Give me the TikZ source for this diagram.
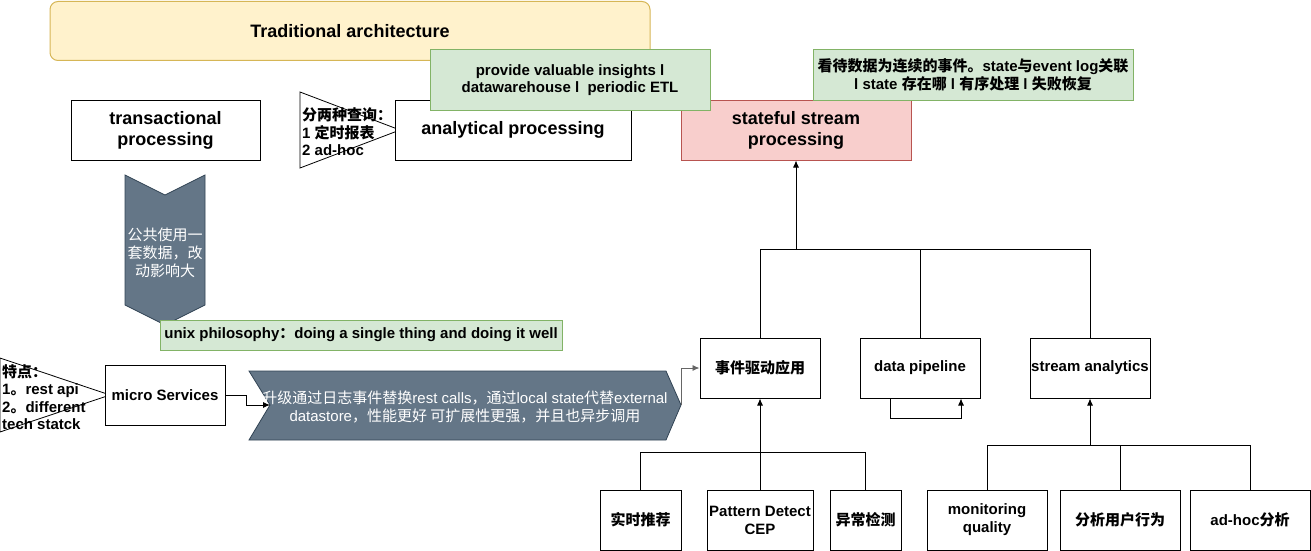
\documentclass[tikz,border=0pt]{standalone}
\usepackage{fontspec}
\setmainfont{Liberation Sans}
\newfontfamily\cjk{Noto Sans CJK SC}
\newcommand{\zhtext}[1]{{\cjk #1}}
\usetikzlibrary{arrows.meta}

\definecolor{titlefill}{HTML}{FFF2CC}
\definecolor{titleline}{HTML}{D6B656}
\definecolor{notefill}{HTML}{D5E8D4}
\definecolor{noteline}{HTML}{82B366}
\definecolor{streamfill}{HTML}{F8CECC}
\definecolor{streamline}{HTML}{B85450}
\definecolor{chevfill}{HTML}{647687}
\definecolor{chevline}{HTML}{314354}

\begin{document}
\begin{tikzpicture}[x=1pt, y=-1pt, box/.style={draw, rectangle, line width=1pt, minimum width=120pt, minimum height=60pt, inner sep=0pt, align=center, fill=white, font=\bfseries\fontsize{15}{18}\selectfont}, big/.style={box, font=\bfseries\fontsize{18}{21}\selectfont}, note/.style={draw=noteline, fill=notefill, line width=1pt, inner sep=0pt, align=center, font=\bfseries\fontsize{15}{17.5}\selectfont}, tri/.style={draw, fill=white, line width=0.8pt}, tritext/.style={anchor=west, align=left, inner sep=0pt, font=\bfseries\fontsize{15}{17.5}\selectfont}, chev/.style={fill=chevfill, draw=chevline, line width=0.8pt}, chevtext/.style={text=white, align=center, inner sep=0pt}, n/.style={-{Latex[length=7pt, width=6pt]}, line width=0.9pt}, link/.style={line width=0.9pt}]
            \useasboundingbox (0,0) rectangle (1311,551);
            % nodes
            \node[draw=titleline, fill=titlefill, rounded corners=8pt, line width=1pt, minimum width=600pt, minimum height=59pt, font=\bfseries\fontsize{18}{21}\selectfont] (title) at (350,31) {Traditional architecture};
            \draw[tri] (300,92) -- (400,130) -- (300,168) -- cycle;
            \draw[tri] (0,358) -- (110,395) -- (0,432) -- cycle;
            \node[big, minimum width=189pt] (tp) at (165.5,130) {transactional\\processing};
            \node[big, minimum width=236pt] (ap) at (513,130) {analytical processing};
            \node[big, draw=streamline, fill=streamfill, minimum width=230pt] (ss) at (796,130) {stateful stream\\processing};
            \node[tritext] (queries) at (302,132) {\zhtext{分两种查询：}\\1 \zhtext{定时报表}\\2 ad-hoc};
            \node[note, minimum width=280pt, minimum height=60pt] (insight) at (570,80) {provide valuable insights l\\datawarehouse l\ \ periodic ETL};
            \node[note, minimum width=320pt, minimum height=50pt] (events) at (973,75) {\zhtext{看待数据为连续的事件。}state\zhtext{与}event log\zhtext{关联}\\l state \zhtext{存在哪} l \zhtext{有序处理} l \zhtext{失败恢复}};
            \filldraw[chev] (125,175) -- (165,195) -- (205,175) -- (205,305) -- (165,325) -- (125,305) -- cycle;
            \node[chevtext, font={\cjk\fontsize{15}{18}\selectfont}] (shared) at (165,253) {公共使用一\\套数据，改\\动影响大};
            \node[note, minimum width=402pt, minimum height=30pt] (unix) at (361,335) {unix philosophy\zhtext{：}doing a single thing and doing it well};
            \node[tritext] (traits) at (2,397) {\zhtext{特点：}\\1\zhtext{。}rest api\\2\zhtext{。}different\\tech statck};
            \node[box] (ms) at (165,395) {micro Services};
            \filldraw[chev] (249,371) -- (666,371) -- (681,405) -- (666,440) -- (249,440) -- (270,405) -- cycle;
            \coordinate (upgW) at (270,405);
            \coordinate (upgE) at (681,405);
            \node[chevtext, font=\fontsize{15}{17.5}\selectfont] (upgrade) at (465,407) {\zhtext{升级通过日志事件替换}rest calls\zhtext{，通过}local state\zhtext{代替}external\\datastore\zhtext{，性能更好 可扩展性更强，并且也异步调用}};
            \node[box] (eda) at (760,368) {\zhtext{事件驱动应用}};
            \node[box] (dp) at (920,368) {data pipeline};
            \node[box] (sa) at (1090,368) {stream analytics};
            \node[box, minimum width=81pt] (rec) at (640.5,520) {\zhtext{实时推荐}};
            \node[box, minimum width=106pt] (cep) at (760,520) {Pattern Detect\\CEP};
            \node[box, minimum width=71pt] (anom) at (865.5,520) {\zhtext{异常检测}};
            \node[box] (mq) at (987,520) {monitoring\\quality};
            \node[box] (ub) at (1120,520) {\zhtext{分析用户行为}};
            \node[box] (adhoc) at (1250,520) {ad-hoc\zhtext{分析}};
            \coordinate (j1) at (796,249);
            \coordinate (j2) at (760,452);
            \coordinate (j3) at (1090,445);
            % edges
            \draw[n] (ms.east) -- ++(21,0) |- (upgW);
            \draw[n, black!60] (upgE) |- (eda.west);
            \draw[link] (eda.north) |- (j1);
            \draw[link] (dp.north) |- (j1);
            \draw[n] (sa.north) |- (j1) -- (ss.south);
            \draw[n] ([xshift=-30pt]dp.south) -- ++(0,20) -| ([xshift=41pt]dp.south);
            \draw[link] (rec.north) |- (j2);
            \draw[link] (anom.north) |- (j2);
            \draw[n] (cep.north) -- (j2) -- (eda.south);
            \draw[link] (mq.north) |- (j3);
            \draw[link] (adhoc.north) |- (j3);
            \draw[n] (ub.north) |- (j3) -- (sa.south);
        \end{tikzpicture}
\end{document}
